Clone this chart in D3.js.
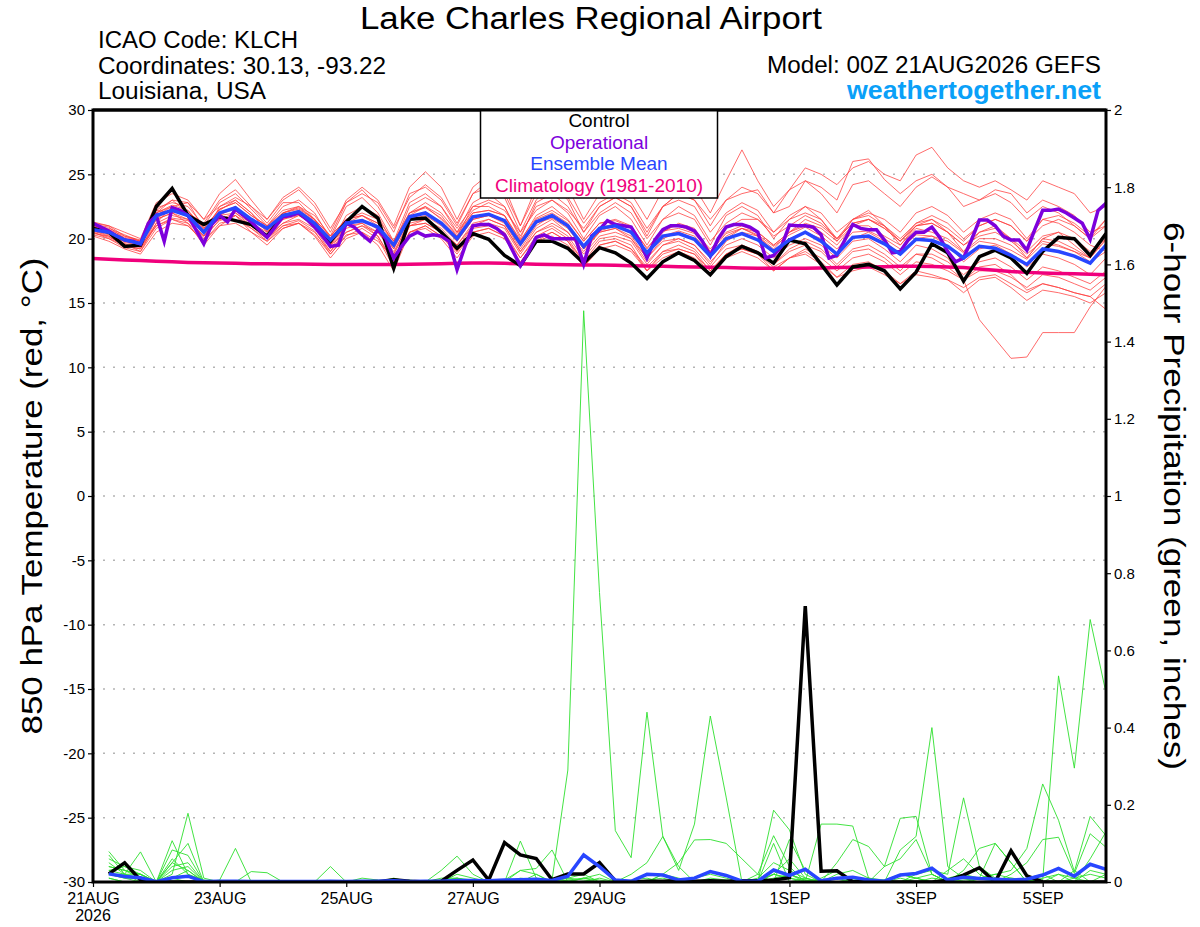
<!DOCTYPE html>
<html><head><meta charset="utf-8">
<script src="https://cdn.jsdelivr.net/npm/d3@7"></script>
<style>
body{margin:0;background:#fff;}
svg{display:block;}
text{font-family:"Liberation Sans",Arial,Helvetica,sans-serif;}
</style>
</head><body>
<svg id="c" width="1200" height="927"></svg>
<script>
// ---------- DATA ----------
const tempTickValues = [30,25,20,15,10,5,0,-5,-10,-15,-20,-25,-30];
const tempGridValues = [25,20,15,10,5,0,-5,-10,-15,-20,-25];
const precipTickValues = [0,0.2,0.4,0.6,0.8,1,1.2,1.4,1.6,1.8,2];
const precipTickLabels = ["0","0.2","0.4","0.6","0.8","1","1.2","1.4","1.6","1.8","2"];
const dateTicks = ["2026-08-21","2026-08-23","2026-08-25","2026-08-27","2026-08-29","2026-09-01","2026-09-03","2026-09-05"];
const dateLabels = ["21AUG","23AUG","25AUG","27AUG","29AUG","1SEP","3SEP","5SEP"];

// 850 hPa temperature, 6-hourly 0..384h
const controlTemp = [20.8,20.5,19.4,19.5,22.5,23.9,21.8,21.1,21.7,21.4,21.1,20.2,21.8,22.0,21.1,19.8,21.3,22.5,21.6,17.7,21.5,21.6,20.5,19.25,20.4,19.95,18.7,17.9,19.8,19.8,19.25,18.1,19.3,18.9,18.1,16.9,18.2,18.9,18.3,17.2,18.6,19.4,18.9,18.1,19.9,19.6,18.0,16.4,17.8,18.0,17.5,16.1,17.4,19.6,18.9,16.7,18.6,19.1,18.5,17.3,19.0,20.1,20.0,18.7,20.4];
const meanTemp = [20.7,20.5,19.9,19.6,21.8,22.2,21.8,20.5,22.0,22.4,21.5,20.8,21.8,22.1,21.2,19.9,21.2,21.4,20.9,19.5,21.7,22.0,21.2,20.0,21.7,21.9,21.4,19.6,21.3,21.8,21.0,19.4,20.8,21.0,20.5,18.9,20.2,20.4,19.95,18.65,20.0,20.4,19.9,19.0,19.9,20.5,19.8,18.8,20.1,20.2,19.6,18.8,19.95,19.85,19.4,18.5,19.4,19.25,18.7,18.0,19.2,19.0,18.65,18.1,19.5];
const climTemp = [18.45,18.4,18.35,18.3,18.25,18.2,18.15,18.12,18.1,18.08,18.06,18.05,18.04,18.03,18.02,18.0,18.0,18.0,18.0,18.0,18.02,18.04,18.06,18.08,18.1,18.1,18.08,18.05,18.02,18.0,17.98,17.96,17.95,17.93,17.9,17.88,17.85,17.82,17.8,17.77,17.75,17.72,17.7,17.7,17.7,17.7,17.72,17.75,17.78,17.8,17.82,17.85,17.85,17.83,17.8,17.75,17.65,17.55,17.45,17.38,17.33,17.3,17.27,17.24,17.2];
// operational, 3-hourly 0..384h
const operTemp = [21.2,20.9,20.6,20.2,19.9,19.8,19.6,21.2,21.8,19.8,22.4,22.2,21.8,20.7,19.6,21.1,21.8,21.3,22.3,21.8,21.3,20.7,20.1,20.9,21.7,21.8,22.0,21.5,20.9,20.2,19.4,19.5,21.2,20.9,20.3,19.8,20.7,20.0,18.5,19.4,20.2,20.5,20.2,20.3,20.2,
19.8,17.6,19.4,21.0,21.1,21.1,20.8,20.3,19.1,17.9,18.9,20.1,20.3,20.0,20.0,20.0,20.0,18.0,20.2,20.7,21.4,21.1,21.0,20.9,19.9,18.5,19.9,20.7,21.0,21.0,20.9,20.6,19.8,18.65,20.0,20.9,21.1,21.1,20.9,20.5,18.5,18.7,19.4,
21.06,21.0,21.0,20.9,20.3,18.5,18.7,19.9,21.1,20.8,20.7,20.7,19.9,18.9,19.0,19.9,20.5,20.5,20.9,20.1,19.0,18.2,18.5,19.9,21.45,21.45,21.0,20.2,19.9,19.9,19.1,20.7,22.2,22.2,22.3,22.0,21.6,21.2,19.95,22.2,22.75];

// ensemble members (temperature), 6-hourly
const memberTemp = [
[21.0,20.8,20.3,19.8,22.4,22.8,22.5,21.0,22.8,23.5,22.3,21.0,22.5,23.0,22.0,20.0,22.5,23.2,22.0,19.8,22.8,23.5,22.5,20.5,22.8,23.5,22.5,20.2,22.5,23.0,22.0,20.0,21.8,22.5,21.5,19.5,21.5,22.0,21.5,19.5,21.8,22.5,21.8,20.0,21.5,22.5,21.5,19.8,21.5,22.2,21.0,19.5,21.0,21.5,20.5,19.0,20.5,21.0,20.0,18.5,20.0,20.5,19.5,18.5,20.0],
[20.5,20.0,19.3,19.0,20.8,21.5,21.0,19.8,21.2,21.5,20.8,19.8,20.8,21.2,20.3,18.8,20.3,20.5,19.8,18.5,20.5,21.0,20.2,19.0,20.5,20.8,20.2,18.5,20.0,20.5,19.8,18.2,19.5,19.8,19.2,17.8,19.0,19.2,18.8,17.5,18.8,19.2,18.8,17.8,18.5,19.2,18.5,17.5,18.5,18.8,18.2,17.2,18.2,18.0,17.5,16.8,17.5,17.5,17.0,16.2,17.2,17.0,16.5,16.0,17.0],
[21.2,21.0,20.5,20.0,22.8,23.5,23.0,21.5,23.5,24.6,23.0,21.5,23.0,23.8,22.5,20.5,23.0,24.0,23.0,21.0,24.0,25.2,24.0,21.5,24.0,25.0,24.0,21.0,24.0,25.3,24.0,21.5,23.5,24.5,23.5,21.5,23.8,25.0,24.0,22.0,24.5,26.9,24.5,22.5,23.8,25.5,25.0,24.2,25.5,26.0,25.0,24.5,26.5,27.1,25.5,24.5,24.0,24.5,23.8,23.0,24.5,24.0,23.5,22.0,22.5],
[20.9,20.6,20.0,19.5,22.0,23.0,22.8,21.5,22.5,23.0,22.0,20.5,22.0,22.5,21.8,20.2,22.8,23.8,22.5,20.5,23.5,24.0,23.0,21.0,23.5,24.5,23.2,20.5,23.0,24.2,23.0,20.5,22.5,23.2,22.5,20.2,22.5,23.5,23.0,21.0,23.0,23.5,23.8,22.0,22.5,24.5,23.5,22.0,24.2,24.5,23.5,22.5,24.0,24.8,24.0,23.5,23.0,23.8,23.5,22.0,23.0,22.5,21.8,20.5,21.0],
[20.3,20.0,19.5,19.2,21.5,22.0,21.5,20.2,21.8,22.0,21.2,20.2,21.5,21.8,21.0,19.5,21.0,21.2,20.5,19.0,21.2,21.5,20.8,19.5,21.2,21.5,21.0,19.0,20.8,21.5,20.5,19.0,20.5,20.8,20.0,18.5,19.8,20.0,19.5,18.2,19.5,20.0,19.5,18.5,19.5,20.0,19.5,18.5,19.8,20.0,19.2,18.2,19.5,19.2,18.5,16.8,13.7,12.2,10.7,10.8,12.7,12.7,12.7,14.7,16.3],
[20.6,20.3,19.6,19.3,21.2,21.8,21.5,20.0,21.5,22.0,21.0,20.0,21.2,21.5,20.8,19.0,20.5,21.0,20.2,18.2,21.0,21.5,20.5,19.2,21.0,21.2,20.8,18.8,20.5,21.0,20.2,18.5,20.0,20.2,19.8,18.0,19.5,19.8,19.2,17.8,19.2,19.5,19.0,18.0,19.0,19.5,19.0,17.8,19.0,19.2,18.5,17.5,18.8,18.5,17.8,16.8,17.8,18.0,17.2,16.0,16.5,16.2,15.8,15.5,16.5],
[21.1,20.9,20.0,19.7,22.0,22.5,22.0,20.8,22.3,22.8,21.8,21.0,22.2,22.5,21.5,20.2,21.5,21.8,21.2,19.2,22.0,22.5,21.5,20.2,22.0,22.2,21.8,19.8,21.8,22.5,21.5,19.8,21.2,21.5,21.0,19.2,20.8,21.0,20.5,19.2,20.5,21.0,20.5,19.5,20.5,21.0,20.5,19.5,21.0,21.0,20.2,19.5,20.8,20.5,20.0,19.0,20.0,20.0,19.5,18.5,20.0,19.8,19.2,18.5,20.5],
[20.8,20.4,19.8,19.5,21.5,22.0,22.2,20.5,21.8,22.5,21.2,20.5,21.5,22.0,21.0,19.5,20.5,21.0,20.5,18.8,21.0,21.2,20.5,19.5,21.0,21.5,21.0,19.0,20.5,21.2,20.5,18.8,20.2,20.5,20.0,18.2,19.5,20.0,19.5,18.0,19.8,20.5,20.2,19.2,20.5,21.5,21.0,20.0,21.5,22.0,21.5,20.5,22.0,22.5,21.8,20.5,21.5,22.0,21.5,20.0,21.5,21.8,21.2,20.2,21.5],
[20.4,20.2,19.4,19.2,21.0,21.5,21.2,19.5,21.0,21.8,20.5,19.5,20.8,21.2,20.2,18.5,20.0,20.5,19.5,17.5,20.5,20.8,20.0,18.5,20.2,20.5,20.0,18.2,19.8,20.2,19.5,17.8,19.2,19.5,19.0,17.5,18.5,19.0,18.5,17.2,18.5,19.0,18.5,17.5,18.5,19.0,18.2,17.0,18.0,18.2,17.5,16.5,17.5,17.2,16.8,15.8,16.8,17.0,16.2,15.2,16.0,15.8,15.5,15.0,15.8],
[20.7,20.5,19.7,19.5,21.8,22.5,22.0,20.5,22.2,23.0,22.0,20.8,22.0,22.3,21.5,19.8,21.2,21.8,21.0,19.5,21.8,22.5,21.8,20.2,22.5,23.0,22.5,20.0,22.8,23.5,22.5,20.5,22.0,22.8,22.0,20.0,21.5,22.5,21.8,19.8,21.2,22.0,21.5,20.2,21.0,21.8,21.2,20.0,21.2,21.5,20.8,19.8,21.0,21.2,20.5,19.5,20.5,20.8,20.0,19.0,20.2,20.5,20.0,19.0,20.0],
[20.9,20.7,19.9,19.6,21.9,22.2,21.8,20.6,22.0,22.5,21.5,20.8,21.8,22.2,21.4,20.0,21.5,22.0,21.5,19.8,22.0,22.8,22.0,20.5,22.2,22.8,22.2,20.5,22.2,23.0,22.2,20.8,22.5,23.2,22.5,20.5,22.5,23.5,23.0,21.5,23.0,24.0,23.5,22.0,23.8,24.5,24.0,23.0,26.0,26.2,24.6,23.5,24.5,25.0,24.0,22.5,23.0,23.5,22.8,21.5,22.5,22.0,21.0,20.0,21.0],
[20.2,19.8,19.2,18.8,20.5,21.2,21.0,19.8,21.0,21.2,20.5,19.8,21.0,21.2,20.5,19.0,20.8,21.2,20.2,18.0,21.0,21.2,20.5,19.0,20.8,21.0,20.5,18.5,20.2,20.8,20.0,18.2,19.8,20.0,19.5,17.5,19.0,19.5,19.0,17.5,18.8,19.2,18.8,17.5,18.5,18.8,18.0,17.0,17.5,17.8,17.2,16.5,17.2,17.0,16.8,16.2,17.0,17.2,16.5,15.8,16.5,16.2,15.8,15.5,14.5],
[21.0,20.7,20.2,19.9,22.2,22.0,21.2,20.2,22.5,23.2,22.5,21.2,22.8,22.8,21.5,19.5,21.8,22.5,21.8,19.5,22.5,23.2,22.5,20.8,22.5,22.5,21.8,19.5,21.5,22.0,21.2,19.2,20.8,21.2,20.5,18.8,20.5,21.2,20.8,19.0,20.8,21.5,21.5,20.5,21.8,22.5,22.0,20.5,21.5,21.8,21.0,19.8,21.2,21.5,20.8,19.8,21.0,21.5,21.0,19.8,21.5,21.2,20.5,19.5,19.0],
[20.5,20.1,19.6,19.0,21.2,22.5,22.8,20.8,21.5,21.8,21.0,20.2,21.2,21.8,21.2,19.2,21.0,21.5,20.8,18.8,21.5,21.8,21.0,19.8,21.5,21.8,21.2,19.2,21.0,21.8,21.0,19.2,20.5,20.8,20.2,18.5,20.0,20.5,20.0,18.5,20.0,20.8,20.2,19.0,20.0,20.5,20.0,18.8,20.0,20.5,19.8,18.8,20.0,20.2,19.5,18.2,19.2,19.5,18.8,17.8,18.8,18.5,18.0,17.2,18.5],
[20.9,20.6,20.1,19.8,22.0,22.6,22.2,20.8,22.3,22.8,21.8,21.0,22.0,22.4,21.5,20.2,21.5,21.8,21.2,19.8,22.0,22.4,21.6,20.4,22.0,22.2,21.8,19.9,21.6,22.2,21.4,19.8,21.2,21.4,20.9,19.3,20.6,20.8,20.4,19.0,20.4,20.8,20.3,19.4,20.3,20.9,20.2,19.2,20.5,20.6,20.0,19.2,20.3,20.2,19.8,18.9,19.8,19.6,19.1,18.4,19.6,19.4,19.0,18.5,19.9],
[21.3,21.0,20.2,19.8,22.2,23.0,22.0,21.2,23.0,23.8,22.5,21.5,23.2,24.0,22.8,20.8,22.8,23.5,22.8,20.8,23.2,24.2,23.2,21.2,23.5,24.0,23.5,21.0,23.5,24.5,23.2,21.2,22.8,23.5,22.8,20.8,22.5,23.0,22.5,20.5,22.0,22.8,22.2,20.5,21.5,22.0,21.5,20.0,21.2,21.5,20.8,19.8,21.0,21.2,20.5,19.5,20.2,20.5,19.8,18.8,19.8,19.5,19.0,18.2,19.0],
[20.6,20.2,19.5,19.4,21.0,21.6,21.4,20.2,21.4,21.8,20.8,20.0,21.0,21.4,20.6,18.8,20.2,20.8,20.0,17.8,20.5,21.0,20.2,18.8,20.5,20.8,20.2,18.0,19.8,20.5,19.8,17.8,19.5,19.8,19.2,17.5,18.8,19.2,18.8,17.2,18.8,19.5,19.0,18.0,19.2,19.8,19.2,18.0,19.2,19.5,18.8,17.8,18.8,18.8,18.2,17.2,18.2,18.5,17.8,16.8,17.8,17.5,17.0,16.5,17.5],
[20.8,20.6,19.9,19.6,21.6,22.2,22.0,20.7,21.9,22.3,21.5,20.6,21.6,22.0,21.2,19.6,21.0,21.5,20.7,19.2,21.5,22.0,21.2,19.8,21.5,21.8,21.3,19.4,21.2,21.6,20.8,19.2,20.6,21.0,20.4,18.8,20.2,20.6,20.2,18.8,20.2,20.8,20.5,19.5,20.5,21.2,20.8,19.8,21.0,21.5,21.0,20.0,21.2,21.8,21.2,20.0,21.0,21.5,21.0,19.8,21.0,21.5,21.0,20.0,21.5]
];

// 6-hour precipitation (inches), 6-hourly 6..384h
const controlPrecip = [0.021,0.05,0.005,0,0,0,0,0,0,0,0,0,0,0,0,0,0,0.001,0.006,0.002,0,0.002,0.03,0.057,0.005,0.102,0.07,0.061,0.006,0.021,0.021,0.05,0.003,0,0.002,0.002,0.003,0.002,0.003,0.002,0.003,0.003,0.005,0.011,0.715,0.028,0.029,0.001,0,0,0,0,0,0.004,0.018,0.037,0,0.081,0.016,0,0,0,0,0];
const meanPrecip = [0.021,0.014,0.011,0.001,0.011,0.015,0.001,0.002,0.002,0.001,0.001,0.001,0.001,0.001,0.002,0.001,0.002,0.002,0.003,0.001,0.002,0.002,0.004,0.004,0.003,0.005,0.006,0.007,0.004,0.015,0.07,0.04,0.005,0.002,0.02,0.018,0.005,0.01,0.027,0.017,0.002,0.002,0.031,0.017,0.033,0.003,0.01,0.012,0.005,0.002,0.018,0.022,0.036,0.005,0.012,0.009,0.007,0.005,0.007,0.018,0.035,0.015,0.046,0.033];
const memberPrecip = [
[0.01,0,0,0,0,0,0,0, 0,0,0,0,0,0,0,0, 0,0,0,0,0,0,0.005,0.003, 0.002,0.004,0.003,0.002,0.005,0.29,1.48,0.75, 0.133,0.063,0.44,0.118,0.03,0.15,0.43,0.22, 0,0.005,0.02,0.01,0.003,0,0,0.005, 0.01,0.005,0.02,0.01,0,0,0.005,0.01, 0.02,0.01,0.005,0,0,0.01,0.02,0.01],
[0.02,0.01,0,0,0.01,0,0,0, 0,0,0,0,0,0,0,0, 0,0,0,0,0,0,0,0, 0,0,0,0,0,0.005,0.01,0, 0,0,0,0,0.005,0,0,0, 0,0,0.01,0.02,0.005,0,0,0, 0,0,0,0,0.01,0.005,0,0, 0.005,0.01,0.005,0.005,0.534,0.295,0.68,0.49],
[0.04,0.03,0.02,0,0.05,0.03,0,0, 0,0,0,0,0,0,0,0, 0,0,0,0,0,0.005,0.01,0.005, 0,0,0.01,0.005,0,0,0.01,0.005, 0,0,0.005,0.01,0,0,0.01,0.005, 0,0.01,0.05,0.03,0.01,0,0.02,0.03, 0.01,0,0.02,0.01,0,0.01,0.02,0.01, 0.02,0.03,0.087,0.254,0.16,0.027,0.17,0.12],
[0.06,0.04,0.03,0,0.083,0.069,0,0, 0,0,0,0,0,0,0,0, 0,0,0,0.005,0,0,0.02,0.01, 0,0.005,0.03,0.02,0,0.01,0.005,0, 0,0,0,0.02,0.01,0,0,0, 0,0,0.03,0.02,0.005,0,0.01,0, 0,0,0.083,0.118,0.4,0.04,0.01,0, 0,0,0.01,0.02,0,0,0.03,0.02],
[0.079,0.03,0.01,0,0.107,0.02,0.005,0, 0,0,0,0,0,0,0,0, 0,0,0,0,0,0,0.01,0, 0,0,0,0,0,0.005,0,0, 0,0.005,0.01,0,0,0,0,0, 0,0,0.02,0.01,0,0,0,0.01, 0,0.005,0,0.02,0.03,0.02,0.218,0.04, 0.01,0,0,0,0.02,0.01,0,0],
[0.07,0.02,0.078,0,0.02,0.178,0.01,0, 0,0,0,0,0,0,0,0, 0,0,0,0,0,0,0,0, 0,0,0,0,0,0,0.01,0.02, 0,0,0,0,0,0.01,0.02,0.01, 0,0,0.186,0.135,0.02,0,0,0, 0,0,0,0.01,0.02,0,0,0, 0,0,0,0.01,0.02,0,0,0],
[0.05,0.02,0.02,0,0.06,0.02,0,0.005, 0.087,0,0,0,0,0,0,0, 0,0,0,0,0,0,0,0, 0,0,0,0,0.005,0.01,0.02,0, 0,0,0,0.02,0.05,0.109,0.11,0.1, 0.06,0.02,0,0,0.01,0,0,0, 0,0,0,0,0,0,0,0.01, 0.1,0.05,0,0,0,0,0,0],
[0.03,0.04,0.02,0,0.04,0.05,0,0, 0,0.027,0.024,0,0,0,0.04,0, 0,0,0,0,0,0,0,0, 0,0,0.106,0.01,0,0,0,0, 0,0,0,0,0,0,0,0, 0,0,0,0.02,0,0.15,0.15,0.145, 0.01,0,0,0,0,0,0,0, 0,0,0,0,0,0,0,0.02],
[0.04,0.03,0.02,0,0.05,0.1,0,0, 0,0,0,0,0,0,0,0, 0.01,0.005,0,0,0,0.03,0.067,0.02, 0,0,0.03,0.035,0.083,0,0,0, 0,0,0,0,0,0,0,0, 0,0,0,0.11,0.03,0,0,0, 0,0,0,0,0,0,0,0, 0,0,0,0,0,0,0,0],
[0.02,0.01,0.01,0,0.03,0.04,0,0, 0,0,0,0,0,0,0,0, 0,0,0,0,0,0,0,0, 0,0,0,0,0,0,0,0, 0,0.02,0.05,0.118,0.04,0,0,0, 0,0,0,0,0,0,0.05,0.11, 0.092,0.04,0.06,0.11,0.02,0,0,0, 0,0,0,0,0,0,0,0],
[0.03,0.02,0,0,0,0,0,0, 0,0,0,0,0,0,0,0, 0,0,0,0,0,0,0,0, 0,0,0,0,0,0,0,0.01, 0,0,0,0,0,0,0,0, 0,0,0.1,0,0,0,0,0, 0,0.04,0.165,0.17,0.02,0,0,0, 0,0.02,0.05,0.11,0.116,0.022,0.125,0.09],
[0.01,0,0,0,0,0,0,0, 0,0,0,0,0,0,0,0, 0,0,0.01,0,0,0,0,0, 0,0,0,0,0,0,0,0, 0,0,0,0,0,0,0,0, 0,0.02,0.12,0.04,0,0.01,0.03,0, 0,0,0,0,0,0,0.03,0.087, 0.1,0.05,0,0,0,0.03,0,0],
[0.02,0.02,0.01,0,0.01,0.03,0,0, 0,0,0,0,0,0,0,0, 0,0,0,0,0,0.01,0.01,0, 0,0,0,0.02,0,0,0,0, 0,0,0,0,0,0,0,0, 0,0,0.02,0.06,0.01,0,0,0, 0,0,0.01,0,0,0.03,0.06,0.02, 0,0,0,0,0,0,0.06,0.13]
];

// ---------- CHART ----------
const svg = d3.select("#c");
const L = 93, R = 1106, T = 110, B = 882;
const t0 = Date.UTC(2026,7,21,0);
const tAt = h => new Date(t0 + h*3600e3);
const x = d3.scaleUtc().domain([tAt(0), tAt(384)]).range([L, R]);
const yT = d3.scaleLinear().domain([-30,30]).range([B, T]);
const yP = d3.scaleLinear().domain([0,2]).range([B, T]);

const tempHours = d3.range(0, 385, 6);
const operHours = d3.range(0, 385, 3);
const precipHours = d3.range(6, 385, 6);

svg.append("rect").attr("width",1200).attr("height",927).attr("fill","#fff");

svg.append("defs").append("clipPath").attr("id","plot")
  .append("rect").attr("x",L).attr("y",T).attr("width",R-L).attr("height",B-T);

// grid
svg.append("g").selectAll("line").data(tempGridValues).join("line")
  .attr("x1",L).attr("x2",R).attr("y1",d=>yT(d)).attr("y2",d=>yT(d))
  .attr("stroke","#b4b4b4").attr("stroke-width",1.5).attr("stroke-dasharray","2,8");

const g = svg.append("g").attr("clip-path","url(#plot)");
const lineOf = (hrs, ys) => d3.line().x((d,i)=>x(tAt(hrs[i]))).y(d=>ys(d));

// precip members
g.append("g").selectAll("path").data(memberPrecip).join("path")
  .attr("d", d=>lineOf(precipHours, yP)(d))
  .attr("fill","none").attr("stroke","#2ee02e").attr("stroke-width",0.9);
// temp members
g.append("g").selectAll("path").data(memberTemp).join("path")
  .attr("d", d=>lineOf(tempHours, yT)(d))
  .attr("fill","none").attr("stroke","#ff3c3c").attr("stroke-width",0.9).attr("opacity",0.85);

// climatology
g.append("path").attr("d", lineOf(tempHours,yT)(climTemp))
  .attr("fill","none").attr("stroke","#f0007c").attr("stroke-width",3.5);
// control
g.append("path").attr("d", lineOf(tempHours,yT)(controlTemp))
  .attr("fill","none").attr("stroke","#000").attr("stroke-width",3.5);
g.append("path").attr("d", lineOf(precipHours,yP)(controlPrecip))
  .attr("fill","none").attr("stroke","#000").attr("stroke-width",3.5);
// operational
g.append("path").attr("d", lineOf(operHours,yT)(operTemp))
  .attr("fill","none").attr("stroke","#7d00dc").attr("stroke-width",3.5);
// ensemble mean
g.append("path").attr("d", lineOf(tempHours,yT)(meanTemp))
  .attr("fill","none").attr("stroke","#2846ff").attr("stroke-width",3.5);
g.append("path").attr("d", lineOf(precipHours,yP)(meanPrecip))
  .attr("fill","none").attr("stroke","#2846ff").attr("stroke-width",3.5);

// axes
const axL = svg.append("g").attr("transform",`translate(${L},0)`)
  .call(d3.axisLeft(yT).tickValues(tempTickValues).tickFormat(d=>String(d)).tickSize(5).tickPadding(3));
const axR = svg.append("g").attr("transform",`translate(${R},0)`)
  .call(d3.axisRight(yP).tickValues(precipTickValues).tickFormat((d,i)=>precipTickLabels[i]).tickSize(5).tickPadding(3));
const axB = svg.append("g").attr("transform",`translate(0,${B})`)
  .call(d3.axisBottom(x).tickValues(dateTicks.map(s=>new Date(s+"T00:00:00Z"))).tickFormat((d,i)=>dateLabels[i]).tickSize(5).tickPadding(6));
[axL,axR,axB].forEach(a=>{
  a.select(".domain").remove();
  a.selectAll(".tick line").attr("stroke","#000").attr("stroke-width",1.2);
  a.selectAll(".tick text").attr("fill","#000").style("font-family",'"Liberation Sans",Arial,sans-serif');
});
axL.selectAll(".tick text").style("font-size","15px");
axR.selectAll(".tick text").style("font-size","15px");
axB.selectAll(".tick text").style("font-size","16px");
svg.append("text").attr("x",x(tAt(0))).attr("y",921).attr("text-anchor","middle")
  .style("font-size","16px").text("2026");

// frame
svg.append("rect").attr("x",L).attr("y",T).attr("width",R-L).attr("height",B-T)
  .attr("fill","none").attr("stroke","#000").attr("stroke-width",3);

// legend
const lg = svg.append("g");
lg.append("rect").attr("x",480.5).attr("y",110).attr("width",237).attr("height",88)
  .attr("fill","#fff").attr("stroke","#000").attr("stroke-width",1.5);
const legendItems = [["Control","#000"],["Operational","#7d00dc"],["Ensemble Mean","#2846ff"],["Climatology (1981-2010)","#f0007c"]];
lg.selectAll("text").data(legendItems).join("text")
  .attr("x",599).attr("y",(d,i)=>127+i*21.6).attr("text-anchor","middle")
  .attr("fill",d=>d[1]).style("font-size","19px").text(d=>d[0]);
svg.append("line").attr("x1",L).attr("x2",R).attr("y1",T).attr("y2",T)
  .attr("stroke","#000").attr("stroke-width",3);

// titles
svg.append("text").attr("x",591).attr("y",29).attr("text-anchor","middle")
  .attr("textLength",462).attr("lengthAdjust","spacingAndGlyphs")
  .style("font-size","31px").text("Lake Charles Regional Airport");
const info = ["ICAO Code: KLCH","Coordinates: 30.13, -93.22","Louisiana, USA"];
const infoWidths = [200,288,168];
svg.selectAll("text.info").data(info).join("text").attr("class","info")
  .attr("x",98).attr("y",(d,i)=>48+i*25.5)
  .attr("textLength",(d,i)=>infoWidths[i]).attr("lengthAdjust","spacingAndGlyphs")
  .style("font-size","23.5px").text(d=>d);
svg.append("text").attr("x",1101).attr("y",73).attr("text-anchor","end")
  .attr("textLength",334).attr("lengthAdjust","spacingAndGlyphs")
  .style("font-size","23.5px").text("Model: 00Z 21AUG2026 GEFS");
svg.append("text").attr("x",1101).attr("y",99).attr("text-anchor","end")
  .attr("textLength",254).attr("lengthAdjust","spacingAndGlyphs")
  .style("font-size","25px").style("font-weight","bold").attr("fill","#0aa0f8").text("weathertogether.net");

svg.append("text").attr("transform","translate(42,496) rotate(-90)").attr("text-anchor","middle")
  .attr("textLength",477).attr("lengthAdjust","spacingAndGlyphs")
  .style("font-size","29px").text("850 hPa Temperature (red, \u00B0C)");
svg.append("text").attr("transform","translate(1164,496) rotate(90)").attr("text-anchor","middle")
  .attr("textLength",548).attr("lengthAdjust","spacingAndGlyphs")
  .style("font-size","29px").text("6-hour Precipitation (green, inches)");
</script>
</body></html>
